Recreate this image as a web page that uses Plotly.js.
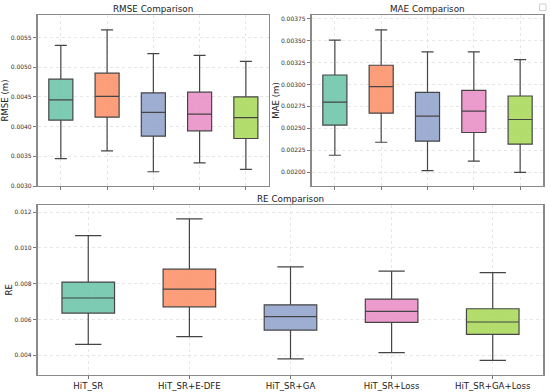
<!DOCTYPE html>
<html>
<head>
<meta charset="utf-8">
<script src="https://cdn.plot.ly/plotly-3.0.1.min.js"></script>
<style>html,body{margin:0;padding:0;background:#fff;}#chart{width:550px;height:392px;}</style>
</head>
<body>
<div id="chart"></div>
<script>
// ---- data ----
const methods = ["HiT_SR", "HiT_SR+E-DFE", "HiT_SR+GA", "HiT_SR+Loss", "HiT_SR+GA+Loss"];
const colors = ["#66c2a5", "#fc8d62", "#8da0cb", "#e78ac3", "#a6d854"];

// RMSE (m)
const rmseLower  = [0.00346, 0.00359, 0.00324, 0.00339, 0.00328];
const rmseQ1     = [0.00411, 0.00416, 0.00384, 0.00393, 0.00380];
const rmseMedian = [0.00445, 0.00451, 0.00424, 0.00421, 0.00415];
const rmseQ3     = [0.00480, 0.00490, 0.00457, 0.00458, 0.00450];
const rmseUpper  = [0.00537, 0.00563, 0.00523, 0.00520, 0.00510];

// MAE (m)
const maeLower  = [0.002194, 0.002342, 0.002019, 0.002126, 0.002000];
const maeQ1     = [0.002537, 0.002673, 0.002354, 0.002453, 0.002320];
const maeMedian = [0.002799, 0.002974, 0.002639, 0.002696, 0.002601];
const maeQ3     = [0.003107, 0.003218, 0.002909, 0.002932, 0.002868];
const maeUpper  = [0.003503, 0.003621, 0.003370, 0.003370, 0.003282];

// RE
const reLower  = [0.00461, 0.00504, 0.00380, 0.00415, 0.00372];
const reQ1     = [0.00636, 0.00671, 0.00541, 0.00584, 0.00517];
const reMedian = [0.00720, 0.00770, 0.00616, 0.00645, 0.00586];
const reQ3     = [0.00809, 0.00881, 0.00682, 0.00714, 0.00660];
const reUpper  = [0.01069, 0.01162, 0.00894, 0.00870, 0.00862];

const rmseTicks = [0.0030, 0.0035, 0.0040, 0.0045, 0.0050, 0.0055];
const maeTicks = [0.00200, 0.00225, 0.00250, 0.00275, 0.00300, 0.00325, 0.00350, 0.00375];
const reTicks = [0.004, 0.006, 0.008, 0.010, 0.012];

// ---- helpers ----
function hexToRgba(h, a) {
  const r = parseInt(h.slice(1,3),16), g = parseInt(h.slice(3,5),16), b = parseInt(h.slice(5,7),16);
  return `rgba(${r},${g},${b},${a})`;
}
function boxTraces(lo, q1, med, q3, up, xa, ya) {
  return methods.map((m, i) => ({
    type: "box",
    x: [m],
    lowerfence: [lo[i]], q1: [q1[i]], median: [med[i]], q3: [q3[i]], upperfence: [up[i]],
    xaxis: xa, yaxis: ya,
    fillcolor: hexToRgba(colors[i], 0.85),
    line: {color: "#454545", width: 1.2},
    width: 0.52,
    whiskerwidth: 0.5,
    boxpoints: false,
    showlegend: false,
    hoverinfo: "skip"
  }));
}

const data = [
  ...boxTraces(rmseLower, rmseQ1, rmseMedian, rmseQ3, rmseUpper, "x", "y"),
  ...boxTraces(maeLower, maeQ1, maeMedian, maeQ3, maeUpper, "x2", "y2"),
  ...boxTraces(reLower, reQ1, reMedian, reQ3, reUpper, "x3", "y3")
];

const W = 550, H = 392;
const px = v => v / W;
const py = v => 1 - v / H;

const gridStyle = {showgrid: true, gridcolor: "#e0e0e0", griddash: "dot", gridwidth: 0.8};
const frame = {showline: true, mirror: true, linecolor: "#8a8a8a", linewidth: 1.3, zeroline: false,
  ticks: "outside", ticklen: 3.5, tickwidth: 0.8, tickcolor: "#555",
  tickfont: {family: "DejaVu Sans", size: 6, color: "#333"}};

function xAxis(domain, showLabels) {
  return Object.assign({}, frame, gridStyle, {
    domain: domain, type: "category", categoryorder: "array", categoryarray: methods,
    range: [-0.5, 4.5], showticklabels: showLabels, fixedrange: true, ticklen: 3,
    tickfont: {family: "DejaVu Sans", size: 8.6, color: "#222"}
  });
}
function yAxis(domain, range, ticks, fmt, anchor, title) {
  return Object.assign({}, frame, gridStyle, {
    domain: domain, range: range, tickvals: ticks, tickformat: fmt, anchor: anchor, fixedrange: true,
    title: {text: title, font: {family: "DejaVu Sans", size: 8.6, color: "#222"}, standoff: 0}
  });
}

const topY = [py(186), py(15)];
const botY = [py(374.5), py(205)];
const titleFont = {family: "DejaVu Sans", size: 8.8, color: "#222"};

const layout = {
  width: W, height: H,
  margin: {l: 0, r: 0, t: 0, b: 0},
  paper_bgcolor: "#fff", plot_bgcolor: "#fff",
  font: {family: "DejaVu Sans", color: "#222"},
  showlegend: false,
  boxmode: "overlay",
  xaxis:  Object.assign(xAxis([px(37.7), px(269)], false), {anchor: "y"}),
  yaxis:  yAxis(topY, [0.0030, 0.00588], rmseTicks, ".4f", "x", "RMSE (m)"),
  xaxis2: Object.assign(xAxis([px(311.7), px(543.3)], false), {anchor: "y2"}),
  yaxis2: yAxis(topY, [0.001844, 0.00379], maeTicks, ".5f", "x2", "MAE (m)"),
  xaxis3: Object.assign(xAxis([px(37.7), px(543.3)], true), {anchor: "y3"}),
  yaxis3: yAxis(botY, [0.002925, 0.0124], reTicks, ".3f", "x3", "RE"),
  annotations: [
    {text: "RMSE Comparison", xref: "paper", yref: "paper", x: px(153.4), y: py(9.3), xanchor: "center", yanchor: "middle", showarrow: false, font: titleFont},
    {text: "MAE Comparison", xref: "paper", yref: "paper", x: px(427.5), y: py(9.3), xanchor: "center", yanchor: "middle", showarrow: false, font: titleFont},
    {text: "RE Comparison", xref: "paper", yref: "paper", x: px(290.5), y: py(198.5), xanchor: "center", yanchor: "middle", showarrow: false, font: titleFont}
  ],
  shapes: [
    {type: "rect", xref: "paper", yref: "paper", x0: px(539.5), x1: px(546), y0: py(10.5), y1: py(4), line: {color: "#cfcfcf", width: 1}, fillcolor: "#fff"}
  ]
};

Plotly.newPlot("chart", data, layout, {staticPlot: true, displayModeBar: false});
</script>
</body>
</html>
